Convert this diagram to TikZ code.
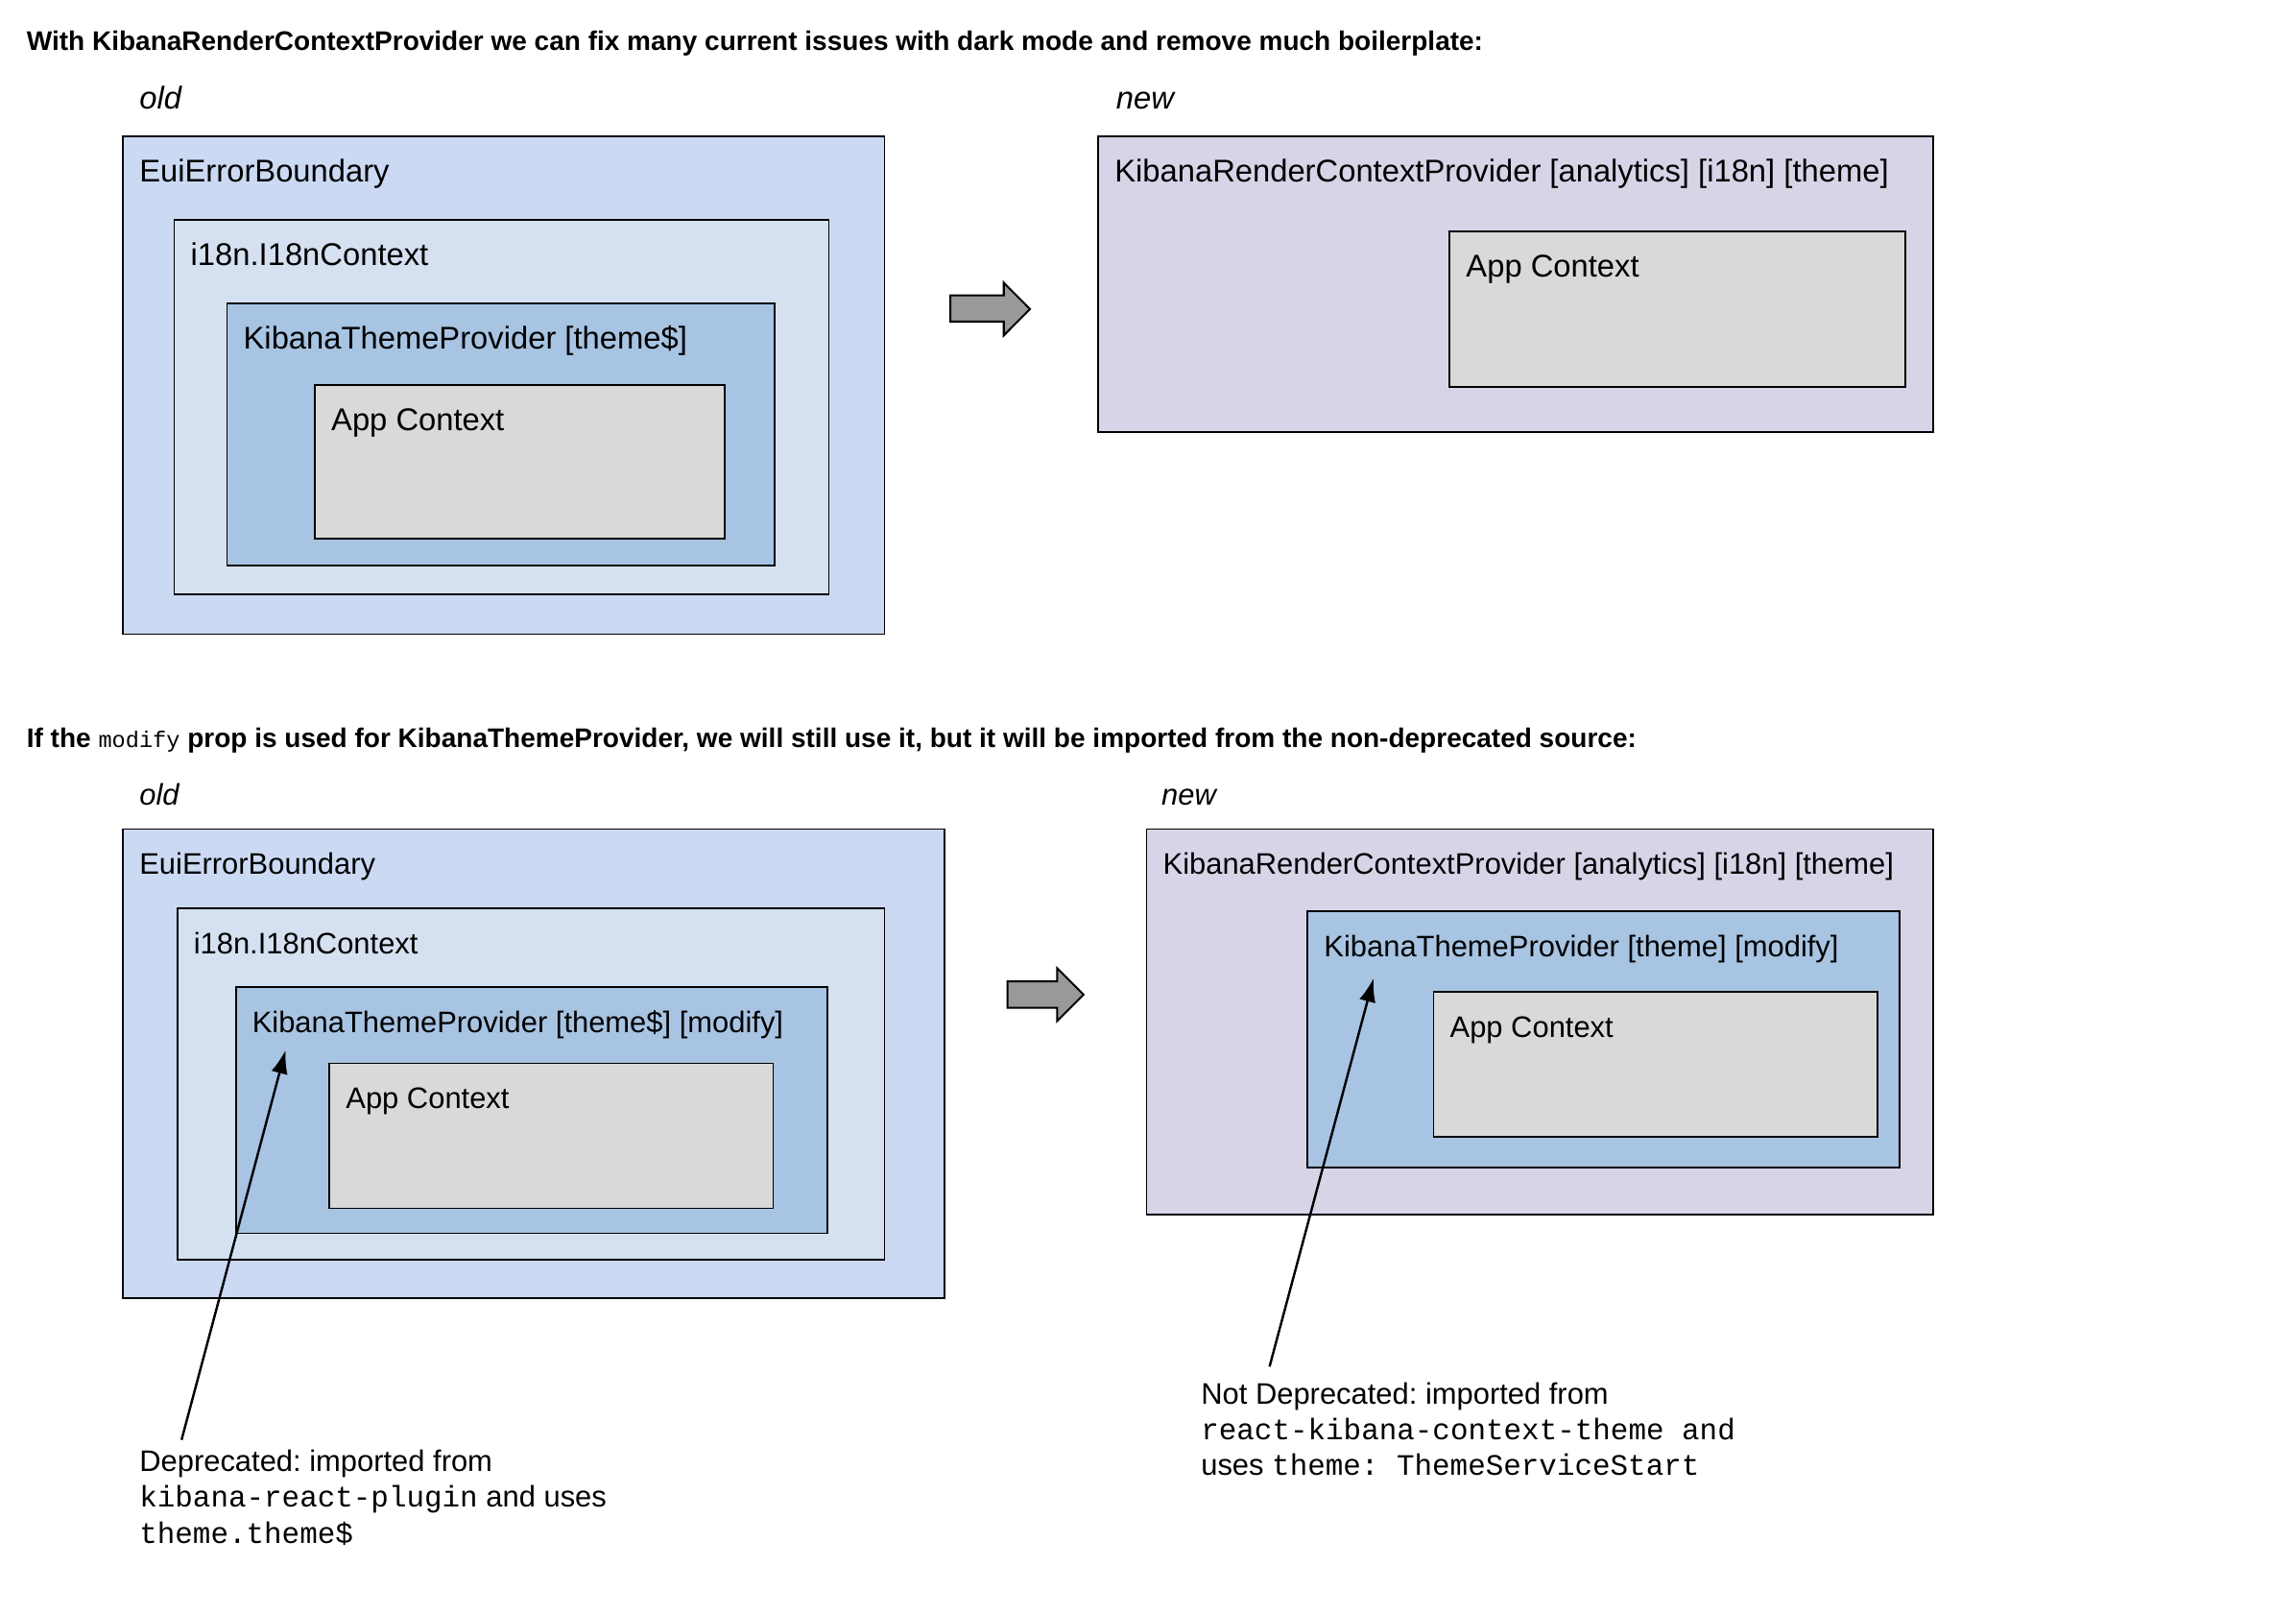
\documentclass[tikz,border=0pt]{standalone}
\usepackage{fontspec}
\setmainfont{Liberation Sans}
\setmonofont{Liberation Mono}
\usetikzlibrary{arrows.meta}
\frenchspacing
\definecolor{cOuter}{HTML}{CBD9F3}
\definecolor{cMid}{HTML}{D5E1F0}
\definecolor{cTheme}{HTML}{A8C4E3}
\definecolor{cApp}{HTML}{D9D9D9}
\definecolor{cRender}{HTML}{D9D3E7}
\definecolor{cBig}{HTML}{999999}
\tikzset{
  boxst/.style={draw=black, line width=0.9pt, anchor=north west, inner sep=0pt, outer sep=0pt},
  lblst/.style={anchor=base west, inner sep=0pt, font=\fontsize{16.1}{19}\selectfont},
  lblsmall/.style={anchor=base west, inner sep=0pt, font=\fontsize{15.2}{18}\selectfont},
  titlest/.style={anchor=base west, inner sep=0pt, font=\fontsize{13.77}{16}\selectfont\bfseries},
  sidest/.style={anchor=base west, inner sep=0pt, font=\fontsize{16.1}{19}\selectfont\itshape},
  sidesmall/.style={anchor=base west, inner sep=0pt, font=\fontsize{15.2}{18}\selectfont\itshape},
  notest/.style={anchor=base west, inner sep=0pt, align=left, font=\fontsize{15.2}{18.4}\selectfont},
  bigarrow/.style={draw=black, line width=1pt, fill=cBig, line join=miter},
  pointer/.style={draw=black, line width=1.2pt, -{Latex[length=12pt,width=8.5pt]}}
}
% name, x1, y1, x2, y2, fill, label style, label
\newcommand\bbox[8]{%
  \node[boxst, fill=#6, minimum width={(#4-#2)*0.75pt}, minimum height={(#5-#3)*0.75pt}] (#1) at (#2,#3) {};
  \node[#7] (#1l) at ([shift={(11,31)}]#1.north west) {#8};
}
\begin{document}
\begin{tikzpicture}[x=0.75pt, y=-0.75pt]
\useasboundingbox[fill=white] (0,0) rectangle (1568,1101.27);
% ---------- section 1 ----------
\node[titlest] (t1) at (18,34.5) {With KibanaRenderContextProvider we can fix many current issues with dark mode and remove much boilerplate:};
\node[sidest] (old1) at (95,74.7) {old};
\node[sidest] (new1) at (762,74.7) {new};
\bbox{a1}{84}{93}{604}{433}{cOuter}{lblst}{EuiErrorBoundary}
\bbox{a2}{119}{150}{566}{406}{cMid}{lblst}{i18n.I18nContext}
\bbox{a3}{155}{207}{529}{386}{cTheme}{lblst}{KibanaThemeProvider [theme\$]}
\bbox{a4}{215}{263}{495}{368}{cApp}{lblst}{App Context}
\draw[bigarrow] (649,201.6) -- (685.5,201.6) -- (685.5,193) -- (703.4,211) -- (685.5,229) -- (685.5,219.6) -- (649,219.6) -- cycle;
\bbox{b1}{750}{93}{1320}{295}{cRender}{lblst}{KibanaRenderContextProvider [analytics] [i18n] [theme]}
\bbox{b2}{990}{158}{1301}{264}{cApp}{lblst}{App Context}
% ---------- section 2 ----------
\node[titlest] (t2) at (18,510.5) {If the {\fontsize{11.6}{14}\selectfont\ttfamily\mdseries modify} prop is used for KibanaThemeProvider, we will still use it, but it will be imported from the non-deprecated source:};
\node[sidesmall] (old2) at (95,549.7) {old};
\node[sidesmall] (new2) at (793,549.7) {new};
\bbox{c1}{84}{566}{645}{886}{cOuter}{lblsmall}{EuiErrorBoundary}
\bbox{c2}{121}{620}{604}{860}{cMid}{lblsmall}{i18n.I18nContext}
\bbox{c3}{161}{674}{565}{842}{cTheme}{lblsmall}{KibanaThemeProvider [theme\$] [modify]}
\bbox{c4}{225}{726}{528}{825}{cApp}{lblsmall}{App Context}
\draw[bigarrow] (688,670) -- (722,670) -- (722,661) -- (740,679) -- (722,697) -- (722,688) -- (688,688) -- cycle;
\bbox{d1}{783}{566}{1320}{829}{cRender}{lblsmall}{KibanaRenderContextProvider [analytics] [i18n] [theme]}
\bbox{d2}{893}{622}{1297}{797}{cTheme}{lblsmall}{KibanaThemeProvider [theme] [modify]}
\bbox{d3}{979}{677}{1282}{776}{cApp}{lblsmall}{App Context}
% ---------- notes ----------
\node[notest] (n1) at (95,1053.5) {Deprecated: imported from\\\texttt{kibana-react-plugin} and uses\\\texttt{theme.theme\$}};
\node[notest] (n2) at (820,1007.5) {Not Deprecated: imported from\\\texttt{react-kibana-context-theme and}\\uses \texttt{theme: ThemeServiceStart}};
\coordinate (q1) at (124,983);
\coordinate (p1) at (195,717);
\coordinate (q2) at (867,933);
\coordinate (p2) at (938,668);
\draw[pointer] (q1) -- (p1);
\draw[pointer] (q2) -- (p2);
\end{tikzpicture}
\end{document}
